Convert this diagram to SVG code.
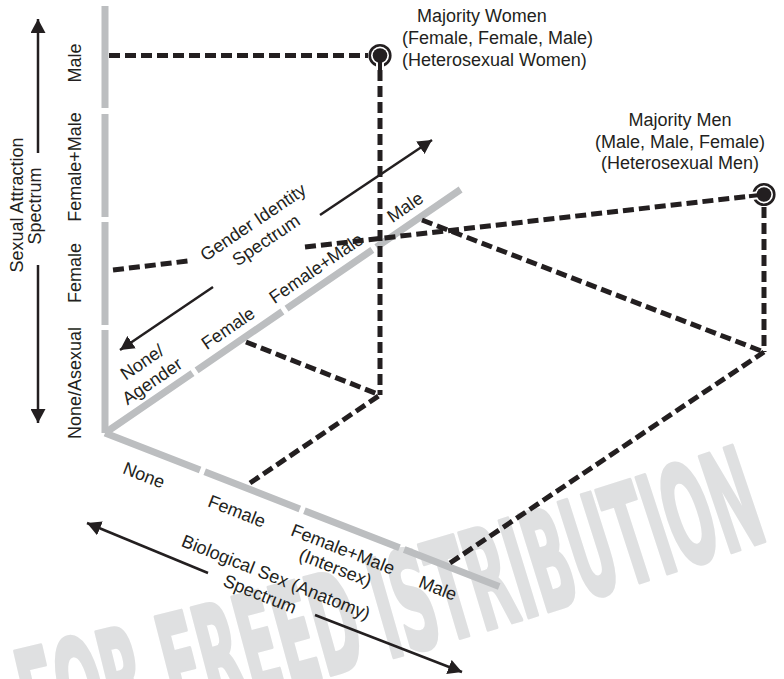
<svg xmlns="http://www.w3.org/2000/svg" width="784" height="679" viewBox="0 0 784 679">
  <style>
    .lbl { font-family: "Liberation Sans", Arial, sans-serif; font-size: 18px; fill: #231f20; }
    .mid { text-anchor: middle; }
    .axis { fill: none; stroke: #bcbec0; stroke-width: 7; stroke-linecap: butt; stroke-linejoin: miter; }
    .dash { fill: none; stroke: #231f20; stroke-width: 5; stroke-dasharray: 11 5; }
    .arrow { fill: none; stroke: #231f20; stroke-width: 2.5; marker-end: url(#head); }
    .wm { font-family: "Liberation Sans Narrow", "DejaVu Sans Condensed", "Liberation Sans", sans-serif; font-weight: bold; font-size: 138px; fill: #dfe0e1; stroke: #dfe0e1; stroke-width: 4; stroke-linejoin: round; }
  </style>
  <defs>
    <marker id="head" markerUnits="userSpaceOnUse" markerWidth="14" markerHeight="15" viewBox="0 0 14 15" refX="14" refY="7.5" orient="auto">
      <path d="M0,0 L14,7.5 L0,15 z" fill="#231f20"/>
    </marker>
    <path id="wm-arc" d="M0,758 Q400,668 820,522"/>
  </defs>

  <rect width="784" height="679" fill="#ffffff"/>

  <!-- watermark -->
  <text class="wm"><textPath href="#wm-arc" startOffset="33" textLength="768" lengthAdjust="spacingAndGlyphs">FOR FREED ISTRIBUTION</textPath></text>

  <!-- axes -->
  <g id="axis-attraction">
    <path class="axis" d="M105,6 V108 M105,114 V217 M105,222 V325 M105,330 V433"/>
  </g>
  <g id="axis-gender">
    <path class="axis" d="M105,433 L192.5,373.1 M196.6,370.3 L282.4,311.5 M286.5,308.7 L372.3,249.9 M376.4,247.1 L460.6,189.5"/>
  </g>
  <g id="axis-sex">
    <path class="axis" d="M105,433 L200.1,470 M204.7,471.8 L299.8,508.9 M304.4,510.7 L399.5,547.7 M404.2,549.5 L499.2,586.5"/>
  </g>

  <!-- axis tick labels -->
  <g id="labels-attraction" class="lbl mid">
    <text transform="translate(74.5,63) rotate(-90)" dy="6.3">Male</text>
    <text transform="translate(74.5,167) rotate(-90)" dy="6.3">Female+Male</text>
    <text transform="translate(74.5,273) rotate(-90)" dy="6.3">Female</text>
    <text transform="translate(74.5,383) rotate(-90)" dy="6.3">None/Asexual</text>
  </g>
  <g id="labels-gender" class="lbl mid">
    <text transform="translate(142,362) rotate(-34.4)" dy="6.3">None/</text>
    <text transform="translate(152,381) rotate(-34.4)" dy="6.3">Agender</text>
    <text transform="translate(228,328) rotate(-34.4)" dy="6.3">Female</text>
    <text transform="translate(316,268) rotate(-34.4)" dy="6.3">Female+Male</text>
    <text transform="translate(405,207) rotate(-34.4)" dy="6.3">Male</text>
  </g>
  <g id="labels-sex" class="lbl mid">
    <text transform="translate(144,475) rotate(21.3)" dy="6.3">None</text>
    <text transform="translate(237,511) rotate(21.3)" dy="6.3">Female</text>
    <text transform="translate(343,549) rotate(21.3)" dy="6.3">Female+Male</text>
    <text transform="translate(335.5,567.5) rotate(21.3)" dy="6.3">(Intersex)</text>
    <text transform="translate(438,588) rotate(21.3)" dy="6.3">Male</text>
  </g>

  <!-- spectrum titles -->
  <g id="title-attraction" class="lbl mid">
    <text transform="translate(22.5,205) rotate(-90)">Sexual Attraction</text>
    <text transform="translate(41,206) rotate(-90)">Spectrum</text>
  </g>
  <g id="title-gender" class="lbl mid">
    <text transform="translate(253,222) rotate(-34)" dy="6.3">Gender Identity</text>
    <text transform="translate(266,240) rotate(-34)" dy="6.3">Spectrum</text>
  </g>
  <g id="title-sex" class="lbl mid">
    <text transform="translate(276,577) rotate(21.7)" dy="6.3">Biological Sex (Anatomy)</text>
    <text transform="translate(260,594) rotate(21.7)" dy="6.3">Spectrum</text>
  </g>

  <!-- direction arrows -->
  <g id="arrows">
    <line class="arrow" x1="38" y1="153" x2="38" y2="19"/>
    <line class="arrow" x1="38" y1="265" x2="38" y2="423"/>
    <line class="arrow" x1="320" y1="215" x2="432" y2="140"/>
    <line class="arrow" x1="213" y1="287" x2="120" y2="350"/>
    <line class="arrow" x1="208" y1="573" x2="87" y2="523"/>
    <line class="arrow" x1="315" y1="615" x2="462" y2="672"/>
  </g>

  <!-- projection lines -->
  <g id="connectors">
    <line class="dash" x1="109" y1="55.5" x2="368" y2="55.5"/>
    <line class="dash" x1="380" y1="70" x2="380" y2="395"/>
    <line class="dash" x1="246" y1="342" x2="380" y2="395"/>
    <line class="dash" x1="250" y1="483" x2="380" y2="395"/>
    <line class="dash" x1="113" y1="270" x2="188" y2="261"/>
    <line class="dash" x1="305" y1="247" x2="749" y2="196.3"/>
    <line class="dash" x1="422" y1="220" x2="764" y2="352"/>
    <line class="dash" x1="764" y1="207" x2="764" y2="352"/>
    <line class="dash" x1="450" y1="563" x2="764" y2="352"/>
  </g>

  <!-- plotted points -->
  <g id="point-women">
    <circle cx="380" cy="55.5" r="10.3" fill="#fff" stroke="#231f20" stroke-width="2.6"/>
    <line x1="380" y1="55.5" x2="380" y2="69" stroke="#fff" stroke-width="8"/>
    <line x1="380" y1="55.5" x2="380" y2="70" stroke="#231f20" stroke-width="4"/>
    <circle cx="380" cy="55.5" r="7.3" fill="#231f20"/>
    <text class="lbl" x="417" y="22">Majority Women</text>
    <text class="lbl" x="402" y="44">(Female, Female, Male)</text>
    <text class="lbl" x="402" y="66">(Heterosexual Women)</text>
  </g>
  <g id="point-men">
    <circle cx="764" cy="194.5" r="10.3" fill="#fff" stroke="#231f20" stroke-width="2.6"/>
    <line x1="764" y1="194.5" x2="750" y2="196.2" stroke="#fff" stroke-width="8"/>
    <line x1="764" y1="194.5" x2="749" y2="196.3" stroke="#231f20" stroke-width="4"/>
    <circle cx="764" cy="194.5" r="7.3" fill="#231f20"/>
    <text class="lbl mid" x="680" y="126">Majority Men</text>
    <text class="lbl mid" x="680" y="147.5">(Male, Male, Female)</text>
    <text class="lbl mid" x="680" y="169">(Heterosexual Men)</text>
  </g>
</svg>
